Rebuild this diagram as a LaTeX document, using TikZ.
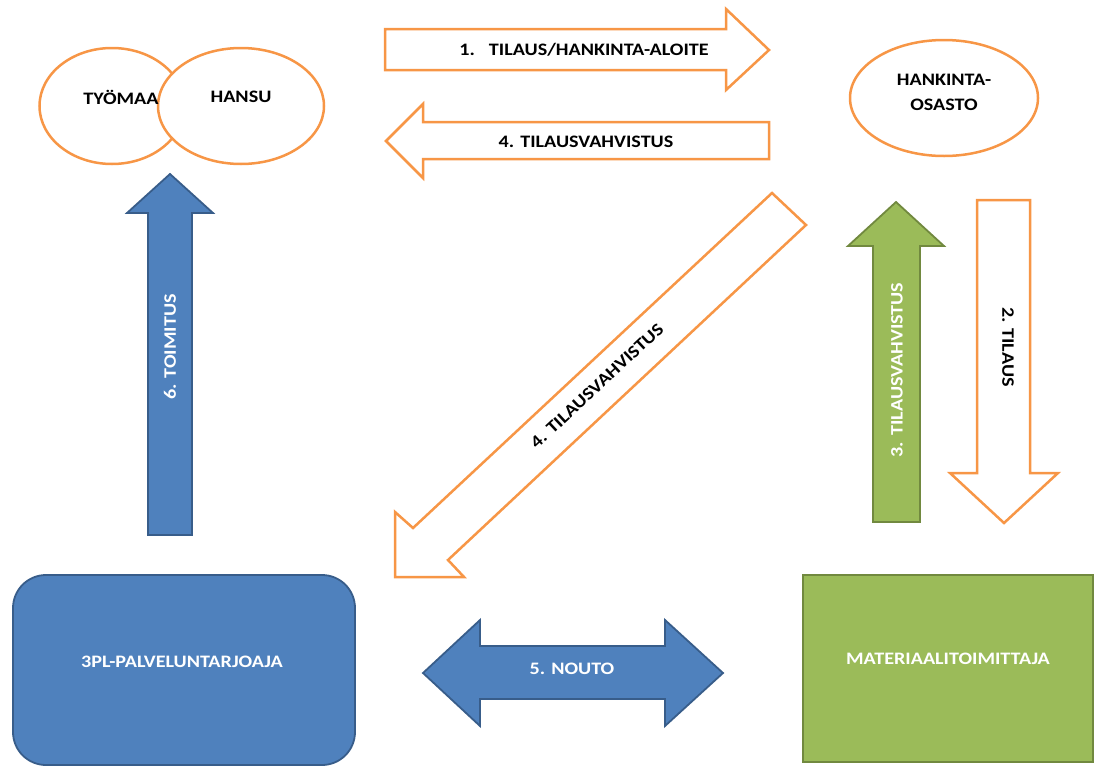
\documentclass[tikz,border=0pt]{standalone}
\usepackage{fontspec}
\setmainfont{Carlito}[FakeStretch=1.15]
\usetikzlibrary{shapes.geometric}

\definecolor{oranssi}{HTML}{F79646}
\definecolor{sininen}{HTML}{4F81BD}
\definecolor{sinireuna}{HTML}{385D8A}
\definecolor{vihrea}{HTML}{9BBB59}
\definecolor{viherreuna}{HTML}{71893F}

\tikzset{every picture/.style={x=1pt,y=-1pt,every node/.style={font=\fontsize{17.5}{25}\selectfont\bfseries}}}
\tikzset{kupla/.style={draw=oranssi,line width=2.5,fill=white,ellipse,minimum height=116},
         orakehys/.style={draw=oranssi,line width=2.5,fill=white,line join=miter},
         sinikappale/.style={draw=sinireuna,line width=1.8,fill=sininen},
         viherkappale/.style={draw=viherreuna,line width=1.8,fill=vihrea},
         valko/.style={text=white}}

\begin{document}
\begin{tikzpicture}
            \useasboundingbox (0,0) rectangle (1095,766);

            % organisaatiot
            \node[kupla, minimum width=145] (tyomaa) at (112,106) {};
            \node[kupla, minimum width=166] (hansu) at (241,106) {};
            \node[kupla, minimum width=188] (hankinta) at (944,98) {};
            \node (tyomaateksti) at (121,97) {TYÖMAA};
            \node (hansuteksti) at (241,97) {HANSU};
            \node[align=center] (hankintateksti) at (944,92) {HANKINTA-\\OSASTO};

            \node[sinikappale, rounded corners=33, minimum width=342, minimum height=190] (palvelu) at (184,670) {};
            \node[viherkappale, minimum width=290, minimum height=187] (toimittaja) at (948,668.5) {};
            \node[valko] (palveluteksti) at (182,662) {3PL-PALVELUNTARJOAJA};
            \node[valko] (toimittajateksti) at (948,659) {MATERIAALITOIMITTAJA};

            % nuolet
            \draw[orakehys] (385,29) -- (726,29) -- (726,9) -- (769,50) -- (726,90) -- (726,70) -- (385,70) -- cycle;
            \draw[orakehys] (769,122) -- (423,122) -- (423,104) -- (386,141) -- (423,178) -- (423,159) -- (769,159) -- cycle;
            \draw[orakehys] (977,200) -- (1030,200) -- (1030,473) -- (1058,473) -- (1004,523) -- (950,473) -- (977,473) -- cycle;
            \draw[orakehys] (395,577) -- (395,512) -- (413,528) -- (772,193) -- (806,225) -- (448,560) -- (464,577) -- cycle;
            \draw[viherkappale] (873,522) -- (873,246) -- (848,246) -- (896,202) -- (944,246) -- (920,246) -- (920,522) -- cycle;
            \draw[sinikappale] (148,535) -- (148,213) -- (127,213) -- (170,174) -- (213,213) -- (192,213) -- (192,535) -- cycle;
            \draw[sinikappale] (423,673) -- (480,620) -- (480,646) -- (665,646) -- (665,620) -- (723,673)
                               -- (665,726) -- (665,699) -- (480,699) -- (480,726) -- cycle;

            \node (aloite) at (584,50) {1.\hspace{14pt}TILAUS/HANKINTA-ALOITE};
            \node (vahvistus) at (586,142) {4. TILAUSVAHVISTUS};
            \node[rotate=-90] (tilaus) at (1008,347) {2. TILAUS};
            \node[valko, rotate=90] (vahvistus3) at (897,370) {3. TILAUSVAHVISTUS};
            \node[rotate=43] (vahvistus4) at (597,386) {4. TILAUSVAHVISTUS};
            \node[valko] (nouto) at (572,669) {5. NOUTO};
            \node[valko, rotate=90] (toimitus) at (170,347) {6. TOIMITUS};
        \end{tikzpicture}
\end{document}
